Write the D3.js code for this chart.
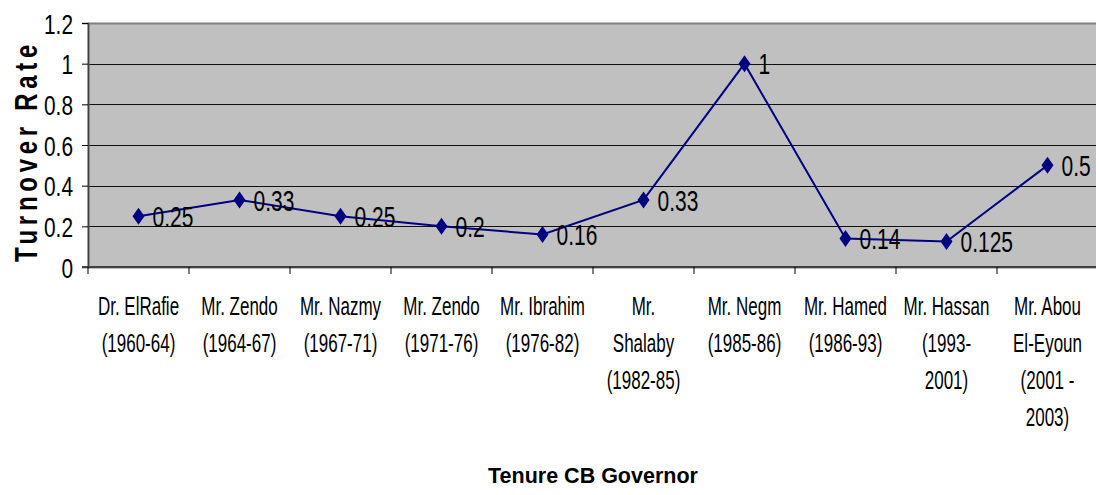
<!DOCTYPE html>
<html>
<head>
<meta charset="utf-8">
<script src="https://cdn.jsdelivr.net/npm/d3@7"></script>
<style>
  body { margin: 0; background: #fff; }
  svg text { font-family: "Liberation Sans", Arial, sans-serif; fill: #000; }
</style>
</head>
<body>
<div class="chart"></div>
<script>
// governors, one entry per line of the wrapped tick label
const governors = [
	["Dr. ElRafie", "(1960-64)"],
	["Mr. Zendo", "(1964-67)"],
	["Mr. Nazmy", "(1967-71)"],
	["Mr. Zendo", "(1971-76)"],
	["Mr. Ibrahim", "(1976-82)"],
	["Mr.", "Shalaby", "(1982-85)"],
	["Mr. Negm", "(1985-86)"],
	["Mr. Hamed", "(1986-93)"],
	["Mr. Hassan", "(1993-", "2001)"],
	["Mr. Abou", "El-Eyoun", "(2001 -", "2003)"]
];
const turnover = [0.25, 0.33, 0.25, 0.2, 0.16, 0.33, 1, 0.14, 0.125, 0.5];
const yTicks = [0, 0.2, 0.4, 0.6, 0.8, 1, 1.2];

const width = 1096, height = 495;
const margin = ({top: 23, right: -2, bottom: 228, left: 88});
const plotW = width - margin.left - margin.right;
const plotH = height - margin.top - margin.bottom;

const svg = d3.select('.chart')
	.append('svg')
	.attr('width', width)
	.attr('height', height);

const g = svg.append("g")
	.attr("transform", `translate(${margin.left},${margin.top})`);

const keys = governors.map((d, i) => i);
const xScale = d3.scaleBand().domain(keys).range([0, plotW]).padding(0);
const yScale = d3.scaleLinear().domain([0, 1.2]).range([plotH, 0]);

// plot background
g.append("rect")
	.attr("width", plotW)
	.attr("height", plotH)
	.attr("fill", "#c0c0c0");

// gridlines
g.append("g")
	.selectAll("line")
	.data(yTicks.filter(d => d > 0 && d < 1.2))
	.join("line")
	.attr("x1", 0).attr("x2", plotW)
	.attr("y1", d => Math.round(yScale(d)) + 0.5)
	.attr("y2", d => Math.round(yScale(d)) + 0.5)
	.attr("stroke", "#111")
	.attr("stroke-width", 1);

// border
g.append("rect")
	.attr("x", 0.5).attr("y", 0.5)
	.attr("width", plotW).attr("height", plotH)
	.attr("fill", "none")
	.attr("stroke", "#808080")
	.attr("stroke-width", 2);

// y axis
const yAxis = d3.axisLeft(yScale)
	.tickValues(yTicks)
	.tickSize(6)
	.tickFormat(d => String(d));

const leftAxis = g.append("g").call(yAxis);
leftAxis.select(".domain").attr("stroke", "#404040").attr("stroke-width", 1.5);
leftAxis.selectAll(".tick line").attr("stroke", "#000");
leftAxis.selectAll(".tick text")
	.attr("font-size", 28)
	.attr("x", -15 / 0.745)
	.attr("dy", "0.36em")
	.attr("transform", "scale(0.745,1)");

// x axis line and ticks at band edges
g.append("line")
	.attr("x1", -6).attr("x2", plotW)
	.attr("y1", plotH).attr("y2", plotH)
	.attr("stroke", "#404040")
	.attr("stroke-width", 2);

g.append("g")
	.selectAll("line")
	.data(keys.concat([keys.length]))
	.join("line")
	.attr("x1", d => d < keys.length ? xScale(d) : plotW)
	.attr("x2", d => d < keys.length ? xScale(d) : plotW)
	.attr("y1", plotH)
	.attr("y2", plotH + 7)
	.attr("stroke", "#000");

// category labels
const cx = i => xScale(i) + xScale.bandwidth() / 2;
g.append("g")
	.selectAll("g")
	.data(governors)
	.join("g")
	.attr("transform", (d, i) => `translate(${cx(i)},${plotH + 48}) scale(0.68,1)`)
	.each(function(lines) {
		d3.select(this).selectAll("text")
			.data(lines)
			.join("text")
			.attr("text-anchor", "middle")
			.attr("font-size", 25)
			.attr("y", (d, j) => j * 37)
			.text(d => d);
	});

// line
const line = d3.line()
	.x((d, i) => cx(i))
	.y(d => yScale(d));

g.append("path")
	.datum(turnover)
	.attr("fill", "none")
	.attr("stroke", "#000080")
	.attr("stroke-width", 2)
	.attr("d", line);

// markers
g.append("g")
	.selectAll("path")
	.data(turnover)
	.join("path")
	.attr("transform", (d, i) => `translate(${cx(i)},${yScale(d)})`)
	.attr("d", "M0,-8.5L6,0L0,8.5L-6,0Z")
	.attr("fill", "#000080");

// value labels
g.append("g")
	.selectAll("text")
	.data(turnover)
	.join("text")
	.attr("transform", (d, i) => `translate(${cx(i) + 14},${yScale(d)}) scale(0.7,1)`)
	.attr("dy", "0.36em")
	.attr("font-size", 30)
	.text(d => String(d));

// axis titles
svg.append("text")
	.attr("x", margin.left + plotW / 2)
	.attr("y", 483)
	.attr("text-anchor", "middle")
	.attr("font-weight", "bold")
	.attr("font-size", 21.5)
	.text("Tenure CB Governor");

svg.append("text")
	.attr("transform", `translate(37,151) rotate(-90) scale(0.75,1)`)
	.attr("text-anchor", "middle")
	.attr("font-weight", "bold")
	.attr("font-size", 32)
	.attr("letter-spacing", 6.3)
	.text("Turnover Rate");
</script>
</body>
</html>
